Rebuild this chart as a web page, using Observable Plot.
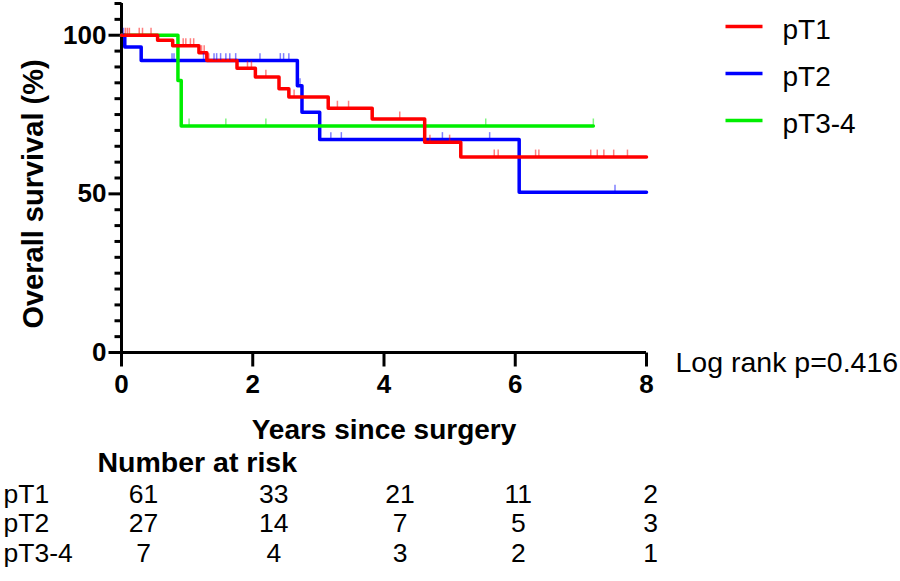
<!DOCTYPE html>
<html><head><meta charset="utf-8">
<script src="https://cdn.jsdelivr.net/npm/d3@7"></script>
<script src="https://cdn.jsdelivr.net/npm/@observablehq/plot@0.6"></script>
<style>
html,body{margin:0;padding:0;background:#fff;}
#chart{width:900px;height:581px;}
</style></head><body><div id="chart"></div>
<script>
// ---------- data ----------
const groups = ["pT1", "pT2", "pT3-4"];
const groupColors = ["#ff0000", "#0000ff", "#00ee00"];

const pT1Times = [0, 0.55, 0.78, 1.18, 1.30, 1.76, 2.04, 2.40, 2.55, 3.15, 3.82, 4.62, 5.17, 8.0];
const pT1Surv  = [100, 98.4, 96.7, 94.5, 92.0, 89.6, 86.8, 83.1, 80.5, 77.0, 73.6, 66.3, 61.6, 61.6];
const pT2Times = [0, 0.05, 0.30, 2.68, 2.75, 3.02, 6.06, 8.0];
const pT2Surv  = [100, 96.3, 92.0, 84.1, 75.7, 67.1, 50.5, 50.5];
const pT3Times = [0, 0.86, 0.91, 7.19];
const pT3Surv  = [100, 85.7, 71.4, 71.4];

const pT1Censored = [0.06, 0.09, 0.12, 0.27, 0.32, 0.45, 0.94, 0.98, 1.05, 1.10, 1.22, 1.26, 1.33, 1.92, 1.98, 2.20, 2.63, 3.29, 3.46, 4.24, 4.70, 5.00, 5.68, 5.74, 6.31, 6.36, 7.15, 7.25, 7.35, 7.50, 7.71];
const pT2Censored = [0.03, 0.77, 0.80, 1.25, 1.41, 1.45, 1.51, 1.59, 1.65, 1.74, 2.11, 2.42, 2.47, 2.55, 2.72, 3.19, 3.35, 4.89, 5.61, 7.52];
const pT3Censored = [1.03, 1.59, 2.20, 5.55, 7.19];

const xTicks = [0, 2, 4, 6, 8];
const yMajorTicks = [0, 50, 100];
const yMinorTicks = [5, 10, 15, 20, 25, 30, 35, 40, 45, 55, 60, 65, 70, 75, 80, 85, 90, 95, 105, 110];

const riskTimes = [0, 2, 4, 6, 8];
const riskPT1 = [61, 33, 21, 11, 2];
const riskPT2 = [27, 14, 7, 5, 3];
const riskPT3 = [7, 4, 3, 2, 1];

const xLabel = "Years since surgery";
const yLabel = "Overall survival (%)";
const riskTitle = "Number at risk";
const pValueText = "Log rank p=0.416";

// ---------- build tables ----------
const curves = {"pT1": [pT1Times, pT1Surv], "pT2": [pT2Times, pT2Surv], "pT3-4": [pT3Times, pT3Surv]};
const censored = {"pT1": pT1Censored, "pT2": pT2Censored, "pT3-4": pT3Censored};
const drawOrder = ["pT2", "pT3-4", "pT1"];

const curveData = drawOrder.flatMap(g => curves[g][0].map((t, i) => ({group: g, time: t, surv: curves[g][1][i]})));
function stepValue(g, t) {
  const [T, S] = curves[g];
  let v = S[0];
  for (let i = 0; i < T.length; i++) if (T[i] <= t) v = S[i];
  return v;
}
const censorData = drawOrder.flatMap(g => censored[g].map(t => ({group: g, time: t, surv: stepValue(g, t)})));

const riskRows = [
  {group: "pT1", counts: riskPT1},
  {group: "pT2", counts: riskPT2},
  {group: "pT3-4", counts: riskPT3}
];

// ---------- symbols ----------
const leftTick = len => ({draw(ctx) { ctx.moveTo(-len, 0); ctx.lineTo(0, 0); }});
const downTick = len => ({draw(ctx) { ctx.moveTo(0, 0); ctx.lineTo(0, len); }});
const hSeg = len => ({draw(ctx) { ctx.moveTo(-len / 2, 0); ctx.lineTo(len / 2, 0); }});

const font = "Arial, 'Liberation Sans', Helvetica, sans-serif";
const rowDy = [142, 171, 201];
const colDx = [22, 21, 16, 3, 4];
const legendDy = [27, 74, 121];
const legendLineDy = [23, 70, 117];

const marks = [
  // axis lines
  Plot.ruleY([0], {stroke: "black", strokeWidth: 3}),
  Plot.ruleX([0], {stroke: "black", strokeWidth: 3}),
  // y ticks
  Plot.dot(yMajorTicks, {y: d => d, frameAnchor: "left", symbol: leftTick(13), fill: "none", stroke: "black", strokeWidth: 3}),
  Plot.dot(yMinorTicks, {y: d => d, frameAnchor: "left", symbol: leftTick(7), fill: "none", stroke: "black", strokeWidth: 3}),
  Plot.text(yMajorTicks, {y: d => d, text: d => String(d), frameAnchor: "left", dx: -15, textAnchor: "end", lineAnchor: "middle", fontSize: 26, fontWeight: "bold", fontFamily: font}),
  // x ticks
  Plot.dot(xTicks, {x: d => d, frameAnchor: "bottom", symbol: downTick(14), fill: "none", stroke: "black", strokeWidth: 3}),
  Plot.text(xTicks, {x: d => d, text: d => String(d), frameAnchor: "bottom", dy: 32, textAnchor: "middle", lineAnchor: "middle", fontSize: 26, fontWeight: "bold", fontFamily: font}),
  // axis titles
  Plot.text([xLabel], {text: d => d, frameAnchor: "bottom", dy: 78, textAnchor: "middle", lineAnchor: "middle", fontSize: 28, fontWeight: "bold", fontFamily: font}),
  Plot.text([yLabel], {text: d => d, frameAnchor: "left", rotate: -90, dx: -88, dy: 16, textAnchor: "middle", lineAnchor: "middle", fontSize: 29, fontWeight: "bold", fontFamily: font}),
  // survival curves
  Plot.line(curveData, {x: "time", y: "surv", z: "group", stroke: "group", curve: "step-after", strokeWidth: 3.5}),
  // censor marks
  Plot.ruleX(censorData, {x: "time", y1: "surv", y2: d => d.surv + 2.2, stroke: "group", strokeWidth: 1.5, strokeOpacity: 0.5}),
  // p value
  Plot.text([pValueText], {text: d => d, frameAnchor: "bottom-right", dx: 29, dy: 10, textAnchor: "start", lineAnchor: "middle", fontSize: 28.5, fontFamily: font}),
  // number at risk title
  Plot.text([riskTitle], {text: d => d, frameAnchor: "bottom-left", dx: -24, dy: 110, textAnchor: "start", lineAnchor: "middle", fontSize: 28.5, fontWeight: "bold", fontFamily: font})
];

riskRows.forEach((row, r) => {
  marks.push(Plot.text([row.group], {text: d => d, frameAnchor: "bottom-left", dx: -118, dy: rowDy[r], textAnchor: "start", lineAnchor: "middle", fontSize: 26.5, fontFamily: font}));
  riskTimes.forEach((t, c) => {
    marks.push(Plot.text([{time: t, n: row.counts[c]}], {x: "time", text: d => String(d.n), frameAnchor: "bottom", dx: colDx[c], dy: rowDy[r], textAnchor: "middle", lineAnchor: "middle", fontSize: 26.5, fontFamily: font}));
  });
});

groups.forEach((g, i) => {
  marks.push(Plot.dot([g], {frameAnchor: "top-right", dx: 97.5, dy: legendLineDy[i], symbol: hSeg(37), fill: "none", stroke: groupColors[i], strokeWidth: 3.5}));
  marks.push(Plot.text([g], {text: d => d, frameAnchor: "top-right", dx: 136, dy: legendDy[i], textAnchor: "start", lineAnchor: "middle", fontSize: 28, fontFamily: font}));
});

const chart = Plot.plot({
  width: 900,
  height: 581,
  marginLeft: 121,
  marginRight: 254,
  marginTop: 3,
  marginBottom: 229,
  style: {fontFamily: font, background: "white", color: "black"},
  x: {domain: [0, 8], axis: null},
  y: {domain: [0, 110], axis: null},
  color: {domain: groups, range: groupColors},
  marks
});
document.getElementById("chart").appendChild(chart);
</script>
</body></html>
